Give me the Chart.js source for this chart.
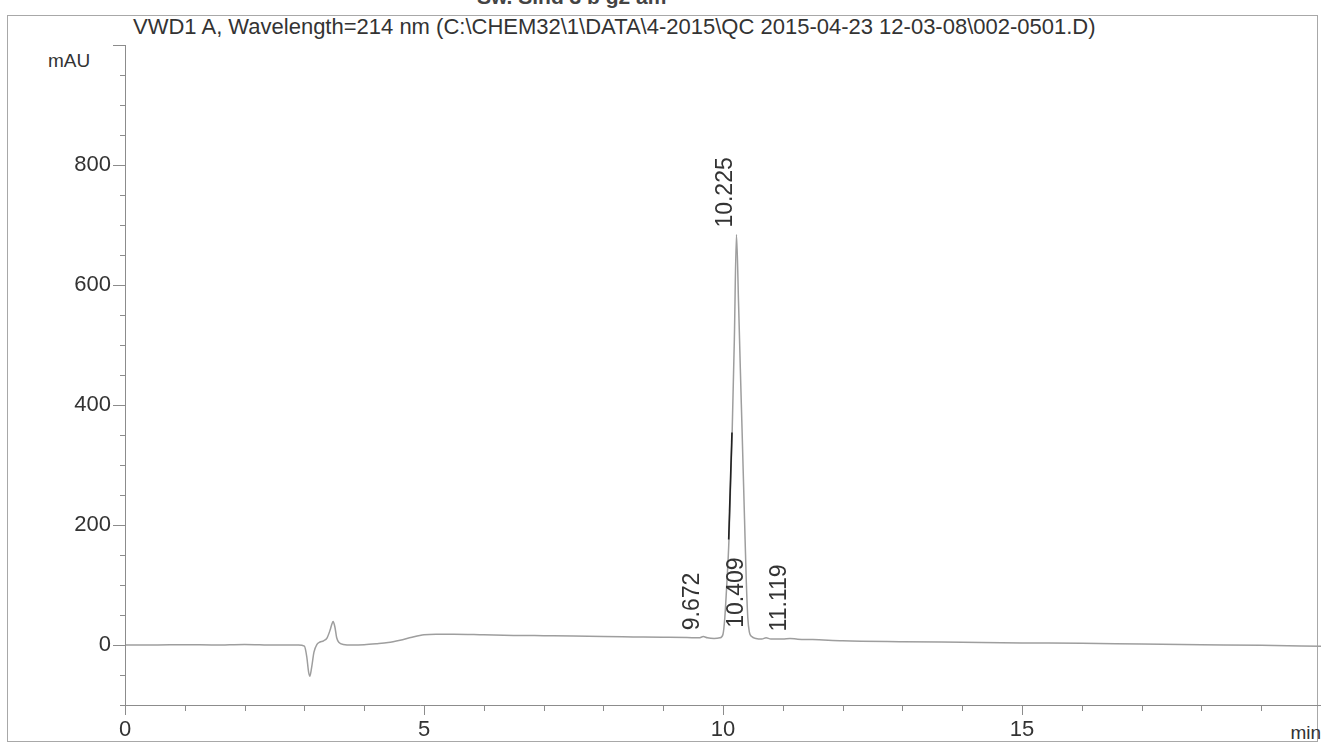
<!DOCTYPE html>
<html>
<head>
<meta charset="utf-8">
<title>VWD1 A chromatogram</title>
<script src="https://cdn.jsdelivr.net/npm/chart.js@4.4.0/dist/chart.umd.min.js"></script>
<style>
    html, body { margin: 0; padding: 0; background: #fff; }
    body {
        width: 1321px; height: 742px; position: relative; overflow: hidden;
        font-family: 'Liberation Sans', Arial, sans-serif; color: #333;
    }
    #frame {
        position: absolute; left: 7px; top: 15px; width: 1309px; height: 725px;
        border: 1px solid #a8a8a8;
    }
    #cut { position: absolute; left: 477px; top: -15px; font-size: 21px; font-weight: bold; color: #444; }
    #title { position: absolute; left: 133px; top: 14px; font-size: 22px; white-space: nowrap; }
    #unit { position: absolute; left: 48px; top: 50px; font-size: 19px; }
    #xunit { position: absolute; right: 0px; top: 722px; font-size: 19px; }
    #chart { position: absolute; left: 0; top: 0; }
</style>
</head>
<body>
<div id="frame"></div>
<div id="cut">Sw. Sind 3 b g2 am</div>
<div id="title">VWD1 A, Wavelength=214 nm (C:\CHEM32\1\DATA\4-2015\QC 2015-04-23 12-03-08\002-0501.D)</div>
<div id="unit">mAU</div>
<div id="xunit">min</div>
<canvas id="chart" width="1321" height="742"></canvas>

<script>
// ============================================
// DATA
// ============================================
const times = [
    0, 0.5, 1.0, 1.5, 2.0, 2.5, 2.9, 3.0, 3.04, 3.07, 3.09, 3.12, 3.16, 3.21, 3.26,
    3.32, 3.38, 3.43, 3.46, 3.48, 3.51, 3.54, 3.58, 3.65, 3.8, 4.0, 4.2, 4.4, 4.6,
    4.8, 5.0, 5.2, 5.5, 6.0, 6.5, 7.0, 7.5, 8.0, 8.5, 9.0, 9.4, 9.6, 9.67, 9.74,
    9.85, 9.95, 10.0, 10.03, 10.06, 10.10, 10.153, 10.19, 10.225, 10.26, 10.29,
    10.32, 10.36, 10.39, 10.415, 10.44, 10.48, 10.55, 10.65, 10.72, 10.8, 11.0,
    11.12, 11.25, 11.5, 12.0, 13.0, 14.0, 15.0, 16.0, 17.0, 18.0, 19.0, 20.0
];
const signal = [
    0, 0, 0.5, 0, 1, 0, 0, -2, -20, -45, -52, -38, -12, 1, 5,
    7, 12, 25, 35, 39, 30, 12, 4, 1, 0, 0.5, 2, 4, 8,
    13, 17, 18, 18, 17, 16, 15.5, 15, 14, 13.5, 13, 12.5, 12, 14, 12,
    11, 12, 18, 45, 95, 176, 354, 510, 684, 570, 460,
    354, 210, 105, 45, 22, 14, 11, 10, 12, 10, 10,
    11, 9.5, 9, 7, 5.5, 4.5, 3.5, 3, 1.5, 0.5, -0.5, -2
];

// dark stroke on the left flank of the main peak
const darkTimes = [10.095, 10.15];
const darkSignal = [176, 354];

// integrated peaks: retention time and label anchor height
const peakTimes = [9.672, 10.225, 10.409, 11.119];
const peakLabelHeights = [13, 684, 17, 11];

// axis ticks
const yMin = -100, yMax = 1000, yStep = 50;
const yLabelValues = [0, 200, 400, 600, 800];
const xMin = 0, xMax = 20, xStep = 1;
const xLabelValues = [0, 5, 10, 15];

const AXIS_COLOR = '#8c8c8c';
const TEXT_COLOR = '#333';
const FONT = "'Liberation Sans', Arial, sans-serif";

// ============================================
// AXES + PEAK LABELS PLUGIN
// ============================================
const chromPlugin = {
    id: 'chromPlugin',
    afterDraw(chart) {
        const { ctx, chartArea: a, scales: { x, y } } = chart;
        ctx.save();
        ctx.strokeStyle = AXIS_COLOR;
        ctx.lineWidth = 1;
        ctx.beginPath();
        // axis lines
        ctx.moveTo(a.left + 0.5, a.top);
        ctx.lineTo(a.left + 0.5, a.bottom + 10);
        ctx.moveTo(a.left - 5, a.bottom + 0.5);
        ctx.lineTo(a.right, a.bottom + 0.5);
        // y ticks (outward, left)
        y.ticks.forEach(t => {
            const py = Math.round(y.getPixelForValue(t.value)) + 0.5;
            const len = (t.value >= 0 && t.value % 200 === 0) ? 12 : 5;
            ctx.moveTo(a.left, py);
            ctx.lineTo(a.left - len, py);
        });
        // x ticks (outward, down)
        x.ticks.forEach(t => {
            const px = Math.round(x.getPixelForValue(t.value)) + 0.5;
            const len = t.value % 5 === 0 ? 10 : 6;
            ctx.moveTo(px, a.bottom);
            ctx.lineTo(px, a.bottom + len);
        });
        ctx.stroke();

        // rotated retention time labels
        ctx.fillStyle = TEXT_COLOR;
        ctx.font = '23px ' + FONT;
        ctx.textAlign = 'left';
        ctx.textBaseline = 'alphabetic';
        peakTimes.forEach((rt, i) => {
            const px = x.getPixelForValue(rt);
            const py = y.getPixelForValue(peakLabelHeights[i]);
            ctx.save();
            ctx.translate(px - 4, py - 7);
            ctx.rotate(-Math.PI / 2);
            ctx.fillText(rt.toFixed(3), 0, 0);
            ctx.restore();
        });
        ctx.restore();
    }
};

// ============================================
// CHART
// ============================================
const ctx = document.getElementById('chart');
new Chart(ctx, {
    type: 'line',
    data: {
        datasets: [
            {
                data: times.map((t, i) => ({ x: t, y: signal[i] })),
                borderColor: '#9e9e9e',
                borderWidth: 1.5,
                pointRadius: 0,
                cubicInterpolationMode: 'monotone',
                fill: false,
                order: 1
            },
            {
                data: darkTimes.map((t, i) => ({ x: t, y: darkSignal[i] })),
                borderColor: '#222',
                borderWidth: 1.6,
                pointRadius: 0,
                fill: false,
                order: 0
            }
        ]
    },
    options: {
        responsive: false,
        animation: false,
        layout: { padding: { left: 0, right: 0, top: 45, bottom: 0 } },
        plugins: {
            legend: { display: false },
            tooltip: { enabled: false }
        },
        scales: {
            x: {
                type: 'linear',
                min: xMin,
                max: xMax,
                grid: { display: false, drawTicks: false },
                border: { display: false },
                afterFit: s => { s.height = 37; s.paddingLeft = 0; s.paddingRight = 0; },
                ticks: {
                    stepSize: xStep,
                    autoSkip: false,
                    maxRotation: 0,
                    padding: 12,
                    color: TEXT_COLOR,
                    font: { family: FONT, size: 22 },
                    callback: v => xLabelValues.includes(v) ? String(v) : ''
                }
            },
            y: {
                type: 'linear',
                min: yMin,
                max: yMax,
                grid: { display: false, drawTicks: false },
                border: { display: false },
                afterFit: s => { s.width = 125; s.paddingTop = 0; s.paddingBottom = 0; },
                ticks: {
                    stepSize: yStep,
                    autoSkip: false,
                    padding: 14,
                    color: TEXT_COLOR,
                    font: { family: FONT, size: 22 },
                    callback: v => yLabelValues.includes(v) ? String(v) : ''
                }
            }
        }
    },
    plugins: [chromPlugin]
});
</script>
</body>
</html>
